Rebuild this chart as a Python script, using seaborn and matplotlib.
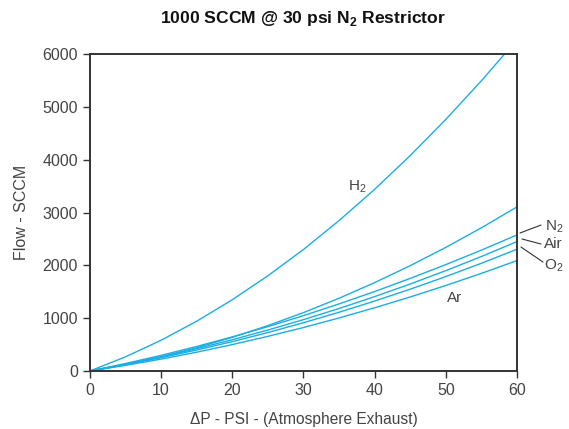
# -------------------------------------
# Import Libraries
# -------------------------------------
import pandas as pd
import matplotlib
matplotlib.use("Agg")
import matplotlib.pyplot as plt
import seaborn as sns


# -------------------------------------
# Data
# -------------------------------------
dp = [0, 5, 10, 15, 20, 25, 30, 35, 40, 45, 50, 55, 60]

h2 = [0, 268, 582, 942, 1349, 1802, 2300, 2847, 3439, 4078, 4763, 5494, 6271]
top = [0, 122, 269, 441, 637, 859, 1105, 1377, 1673, 1994, 2340, 2711, 3106]
n2 = [0, 142, 296, 464, 646, 840, 1048, 1270, 1504, 1753, 2014, 2288, 2576]
air = [0, 127, 268, 423, 592, 775, 972, 1183, 1408, 1647, 1900, 2167, 2450]
o2 = [0, 119, 252, 397, 556, 728, 914, 1112, 1324, 1549, 1788, 2039, 2305]
ar = [0, 107, 225, 356, 500, 656, 823, 1004, 1197, 1401, 1619, 1848, 2090]

gases = ["H2", "Other", "N2", "Air", "O2", "Ar"]
series = [h2, top, n2, air, o2, ar]

rows = []
for g, vals in zip(gases, series):
    for x, y in zip(dp, vals):
        rows.append({"dp": x, "flow": y, "gas": g})
df = pd.DataFrame(rows)


# -------------------------------------
# Style
# -------------------------------------
sns.set_theme(style="white")
plt.rcParams["font.family"] = ["Liberation Sans", "DejaVu Sans"]
plt.rcParams["mathtext.fontset"] = "custom"
plt.rcParams["mathtext.rm"] = "Liberation Sans"
plt.rcParams["mathtext.bf"] = "Liberation Sans:bold"

line_color = "#1aaee5"
text_color = "#444444"
spine_color = "#333333"


# -------------------------------------
# Plot
# -------------------------------------
fig = plt.figure(figsize=(5.69, 4.29), dpi=100)
ax = fig.add_axes([0.158, 0.1352, 0.7506, 0.7388])

sns.lineplot(
    data=df,
    x="dp",
    y="flow",
    units="gas",
    estimator=None,
    color=line_color,
    linewidth=1.0,
    ax=ax,
    legend=False
)

ax.set_xlim(0, 60)
ax.set_ylim(0, 6000)
ax.set_xticks(range(0, 61, 10))
ax.set_yticks(range(0, 6001, 1000))

for s in ax.spines.values():
    s.set_color(spine_color)
    s.set_linewidth(1.4)

ax.tick_params(
    axis="both",
    direction="out",
    length=5,
    width=1.0,
    color=spine_color,
    labelsize=11.5,
    labelcolor=text_color,
    bottom=True,
    left=True
)

ax.set_xlabel("ΔP - PSI - (Atmosphere Exhaust)", fontsize=11.2,
              color=text_color, labelpad=10)
ax.set_ylabel("Flow - SCCM", fontsize=11.5, color=text_color, labelpad=10)
ax.set_title(r"1000 SCCM @ 30 psi N$_\mathbf{2}$ Restrictor",
             fontsize=12.6, fontweight="bold", color="#111111", pad=22)


# -------------------------------------
# Curve labels
# -------------------------------------
ax.text(37.5, 3483, r"H$_2$", fontsize=11, color=text_color,
        ha="center", va="center")
ax.text(51.3, 1382, "Ar", fontsize=11, color=text_color,
        ha="center", va="center")

ax.plot([60.42, 63.37], [2612, 2763], color=spine_color, lw=0.8, clip_on=False)
ax.text(64.0, 2740, r"N$_2$", fontsize=11, color=text_color,
        ha="left", va="center", clip_on=False)

ax.plot([60.7, 63.37], [2499, 2404], color=spine_color, lw=0.8, clip_on=False)
ax.text(63.8, 2404, "Air", fontsize=11, color=text_color,
        ha="left", va="center", clip_on=False)

ax.plot([60.56, 63.65], [2347, 2063], color=spine_color, lw=0.8, clip_on=False)
ax.text(63.8, 1988, r"O$_2$", fontsize=11, color=text_color,
        ha="left", va="center", clip_on=False)

plt.savefig("out.png", dpi=100)
